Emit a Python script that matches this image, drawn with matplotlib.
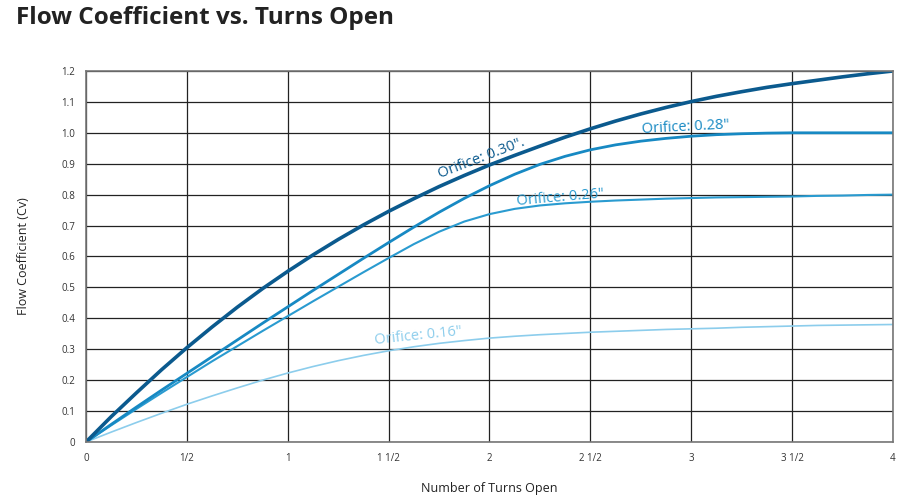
import matplotlib
matplotlib.use("Agg")
import matplotlib.pyplot as plt

plt.rcParams['font.family'] = ['Open Sans', 'DejaVu Sans']

turns = [0, 0.125, 0.25, 0.375, 0.5, 0.625, 0.75, 0.875, 1.0, 1.125, 1.25, 1.375, 1.5,
         1.625, 1.75, 1.875, 2.0, 2.125, 2.25, 2.375, 2.5, 2.625, 2.75, 2.875, 3.0,
         3.125, 3.25, 3.375, 3.5, 3.625, 3.75, 3.875, 4.0]
cv_030 = [0, 0.082, 0.159, 0.234, 0.305, 0.372, 0.436, 0.496, 0.552, 0.605, 0.655, 0.702, 0.746,
          0.787, 0.826, 0.862, 0.896, 0.927, 0.957, 0.986, 1.013, 1.038, 1.061, 1.082, 1.101,
          1.118, 1.133, 1.147, 1.159, 1.17, 1.181, 1.191, 1.2]
cv_028 = [0, 0.057, 0.113, 0.168, 0.222, 0.276, 0.33, 0.384, 0.437, 0.49, 0.542, 0.594, 0.645,
          0.695, 0.743, 0.788, 0.829, 0.866, 0.898, 0.924, 0.945, 0.961, 0.973, 0.982, 0.989,
          0.994, 0.997, 0.999, 1.0, 1.0, 1.0, 1.0, 1.0]
cv_026 = [0, 0.054, 0.107, 0.159, 0.21, 0.261, 0.31, 0.359, 0.407, 0.455, 0.502, 0.549, 0.595,
          0.64, 0.68, 0.713, 0.737, 0.754, 0.765, 0.772, 0.777, 0.781, 0.784, 0.787, 0.789,
          0.791, 0.792, 0.793, 0.794, 0.796, 0.797, 0.799, 0.8]
cv_016 = [0, 0.032, 0.063, 0.093, 0.122, 0.149, 0.175, 0.2, 0.223, 0.244, 0.263, 0.28, 0.295,
          0.308, 0.319, 0.328, 0.336, 0.342, 0.347, 0.351, 0.355, 0.358, 0.361, 0.364, 0.366,
          0.368, 0.371, 0.373, 0.375, 0.377, 0.378, 0.379, 0.38]

x_ticks = [0, 0.5, 1, 1.5, 2, 2.5, 3, 3.5, 4]
x_labels = ["0", "1/2", "1", "1 1/2", "2", "2 1/2", "3", "3 1/2", "4"]
y_ticks = [0, 0.1, 0.2, 0.3, 0.4, 0.5, 0.6, 0.7, 0.8, 0.9, 1.0, 1.1, 1.2]
y_labels = ["0", "0.1", "0.2", "0.3", "0.4", "0.5", "0.6", "0.7", "0.8", "0.9", "1.0", "1.1", "1.2"]

fig = plt.figure(figsize=(9.17, 4.96), dpi=100)
ax = fig.add_axes([0.0938, 0.1089, 0.8800, 0.7480])

ax.set_xlim(0, 4)
ax.set_ylim(0, 1.2)
ax.set_xticks(x_ticks)
ax.set_xticklabels(x_labels)
ax.set_yticks(y_ticks)
ax.set_yticklabels(y_labels)
ax.tick_params(length=0, labelsize=7, colors='#333333', pad=8)
ax.grid(True, color='#222222', linewidth=0.9)
ax.set_axisbelow(True)
for s in ax.spines.values():
    s.set_color('#777777')
    s.set_linewidth(1.2)

c30, c28, c26, c16 = '#0b5a8e', '#1789c3', '#2a9bd0', '#8ccdec'
ax.plot(turns, cv_016, color=c16, lw=1.2, solid_capstyle='round', solid_joinstyle='round')
ax.plot(turns, cv_026, color=c26, lw=1.5, solid_capstyle='round', solid_joinstyle='round')
ax.plot(turns, cv_028, color=c28, lw=2.0, solid_capstyle='round', solid_joinstyle='round')
ax.plot(turns, cv_030, color=c30, lw=2.6, solid_capstyle='round', solid_joinstyle='round')

tk = dict(fontsize=10.5, ha='center', va='center')
ax.text(1.96, 0.918, 'Orifice: 0.30".', color=c30, rotation=21, **tk)
ax.text(2.97, 1.018, 'Orifice: 0.28"', color=c28, rotation=3, **tk)
ax.text(2.35, 0.79, 'Orifice: 0.26"', color=c26, rotation=5, **tk)
ax.text(1.646, 0.342, 'Orifice: 0.16"', color=c16, rotation=6, **tk)

ax.set_xlabel('Number of Turns Open', fontsize=9, color='#222222', labelpad=13)
ax.set_ylabel('Flow Coefficient (Cv)', fontsize=9, color='#222222', labelpad=22)

fig.text(0.017, 0.963, 'Flow Coefficient vs. Turns Open', fontsize=17.5, fontweight='bold',
         color='#222222', ha='left', va='center')

fig.savefig('out.png', dpi=100, facecolor='white')
